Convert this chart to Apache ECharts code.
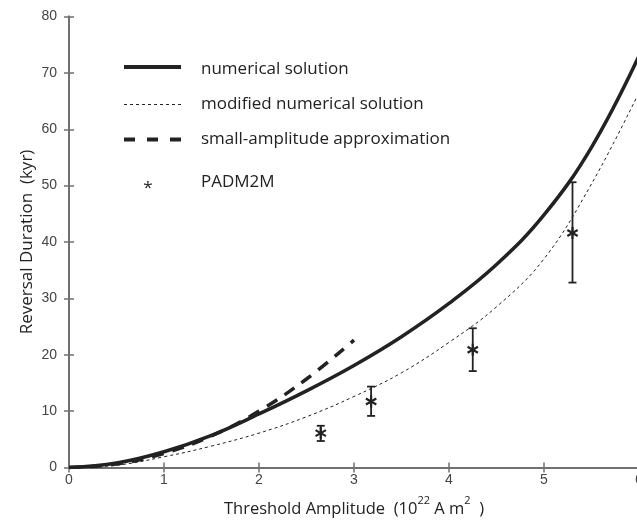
<!DOCTYPE html>
<html>
<head>
<meta charset="utf-8">
<script src="https://cdn.jsdelivr.net/npm/echarts@6/dist/echarts.min.js"></script>
<style>html,body{margin:0;padding:0;background:#fff}#c{width:637px;height:520px}</style>
</head>
<body>
<div id="c"></div>
<script>
// Data
const xGrid = [0, 0.5, 1, 1.5, 2, 2.5, 3, 3.5, 4, 4.5, 5, 5.5, 6];
const numericalSolution = [0, 0.8, 2.8, 5.7, 9.5, 13.6, 18.1, 23.2, 29.1, 36.0, 44.8, 56.8, 73];
const modifiedSolution = [0, 0.4, 1.9, 3.8, 6.1, 9.0, 12.6, 16.8, 22.2, 28.5, 37.0, 50.3, 66.5];
const xSmall = [0, 0.5, 1, 1.5, 2, 2.5, 3];
const smallAmplitude = [0, 0.6, 2.5, 5.6, 10.0, 15.7, 22.6];
const padmX = [2.65, 3.18, 4.25, 5.30];
const padmY = [6.1, 11.7, 20.9, 41.6];
const padmLow = [4.7, 9.15, 17.1, 32.8];
const padmHigh = [7.4, 14.35, 24.7, 50.6];
const xTicks = [0, 1, 2, 3, 4, 5, 6];
const yTicks = [0, 10, 20, 30, 40, 50, 60, 70, 80];
const legendNames = ['numerical solution', 'modified numerical solution', 'small-amplitude approximation', 'PADM2M'];

const pair = (xs, ys) => xs.map((x, i) => [x, ys[i]]);
const padmData = padmX.map((x, i) => [x, padmY[i], padmLow[i], padmHigh[i]]);

const ink = '#222';
const axisGray = '#707070';
const tickFont = 'Liberation Sans';
const textFont = 'Open Sans';

const chart = echarts.init(document.getElementById('c'), null, {renderer: 'canvas'});

const commonAxisLine = {show: true, lineStyle: {color: axisGray, width: 2}};
const commonTick = {show: true, inside: true, length: 5, lineStyle: {color: axisGray, width: 1.5}};

function errRender(params, api) {
  const x = api.value(0), y = api.value(1), lo = api.value(2), hi = api.value(3);
  const c = api.coord([x, y]);
  const l = api.coord([x, lo]);
  const h = api.coord([x, hi]);
  const st = {stroke: ink, lineWidth: 1.8};
  const cap = 4;
  const a = 6, dx = 5.2, dy = 3;
  const ss = {stroke: ink, lineWidth: 2.2};
  return {
    type: 'group',
    children: [
      {type: 'line', shape: {x1: l[0], y1: l[1], x2: h[0], y2: h[1]}, style: st},
      {type: 'line', shape: {x1: l[0] - cap, y1: l[1], x2: l[0] + cap, y2: l[1]}, style: st},
      {type: 'line', shape: {x1: h[0] - cap, y1: h[1], x2: h[0] + cap, y2: h[1]}, style: st},
      {type: 'line', shape: {x1: c[0], y1: c[1] - a, x2: c[0], y2: c[1] + a}, style: ss},
      {type: 'line', shape: {x1: c[0] - dx, y1: c[1] - dy, x2: c[0] + dx, y2: c[1] + dy}, style: ss},
      {type: 'line', shape: {x1: c[0] - dx, y1: c[1] + dy, x2: c[0] + dx, y2: c[1] - dy}, style: ss}
    ]
  };
}

const legendX0 = 124, legendX1 = 181, legendTextX = 201;
const legendLineYs = [67, 104.5, 139.5];
const legendTextYs = [69, 104, 139, 182];
const legendFont = '17px "Open Sans"';

function legendText(i) {
  return {type: 'text', x: legendTextX, y: legendTextYs[i],
    style: {text: legendNames[i], font: legendFont, fill: ink, verticalAlign: 'middle', align: 'left'}};
}

const option = {
  animation: false,
  backgroundColor: '#fff',
  grid: {left: 69, top: 16.5, width: 570, height: 451, containLabel: false, outerBoundsMode: 'none'},
  xAxis: [{
    type: 'value', min: xTicks[0], max: xTicks[xTicks.length - 1], interval: 1,
    position: 'bottom',
    axisLine: commonAxisLine, axisTick: commonTick, splitLine: {show: false},
    axisLabel: {color: '#444', fontFamily: tickFont, fontSize: 14, margin: 6, showMaxLabel: true, showMinLabel: true, hideOverlap: false},
    name: '{t|Threshold Amplitude  (10}{s|22}{t| A m}{s|2}{t|  )}',
    nameLocation: 'middle', nameGap: 28, nameMoveOverlap: false,
    nameTextStyle: {
      rich: {
        t: {fontFamily: textFont, fontSize: 16.5, color: ink, lineHeight: 22, verticalAlign: 'bottom'},
        s: {fontFamily: textFont, fontSize: 11, color: ink, lineHeight: 22, verticalAlign: 'top'}
      }
    }
  }, {
    type: 'value', min: xTicks[0], max: xTicks[xTicks.length - 1], interval: 1,
    position: 'top',
    axisLine: commonAxisLine, axisTick: commonTick, splitLine: {show: false},
    axisLabel: {show: false}
  }],
  yAxis: [{
    type: 'value', min: yTicks[0], max: yTicks[yTicks.length - 1], interval: 10,
    position: 'left',
    axisLine: commonAxisLine, axisTick: commonTick, splitLine: {show: false},
    axisLabel: {color: '#444', fontFamily: tickFont, fontSize: 14, margin: 12},
    name: 'Reversal Duration  (kyr)',
    nameLocation: 'middle', nameGap: 33, nameRotate: 90, nameMoveOverlap: false,
    nameTextStyle: {fontFamily: textFont, fontSize: 17, color: ink}
  }, {
    type: 'value', min: yTicks[0], max: yTicks[yTicks.length - 1], interval: 10,
    position: 'right',
    axisLine: commonAxisLine, axisTick: commonTick, splitLine: {show: false},
    axisLabel: {show: false}
  }],
  graphic: [
    {type: 'line', shape: {x1: legendX0, y1: legendLineYs[0], x2: legendX1, y2: legendLineYs[0]}, style: {stroke: ink, lineWidth: 4}},
    {type: 'line', shape: {x1: legendX0, y1: legendLineYs[1], x2: legendX1, y2: legendLineYs[1]}, style: {stroke: ink, lineWidth: 1, lineDash: [3, 3]}},
    {type: 'line', shape: {x1: legendX0, y1: legendLineYs[2], x2: legendX1, y2: legendLineYs[2]}, style: {stroke: ink, lineWidth: 4, lineDash: [11, 12]}},
    {type: 'text', x: 148, y: 188, style: {text: '*', font: legendFont, fill: ink, verticalAlign: 'middle', align: 'center'}},
    legendText(0), legendText(1), legendText(2), legendText(3)
  ],
  series: [
    {
      name: legendNames[0], type: 'line', smooth: 0.4, symbol: 'none',
      data: pair(xGrid, numericalSolution),
      lineStyle: {color: ink, width: 3.5}, z: 3
    },
    {
      name: legendNames[1], type: 'line', smooth: 0.4, symbol: 'none',
      data: pair(xGrid, modifiedSolution),
      lineStyle: {color: ink, width: 1, type: [3, 3]}, z: 3
    },
    {
      name: legendNames[2], type: 'line', smooth: 0.4, symbol: 'none',
      data: pair(xSmall, smallAmplitude),
      lineStyle: {color: ink, width: 3.5, type: [12, 9]}, z: 3
    },
    {
      name: legendNames[3], type: 'custom',
      renderItem: errRender,
      data: padmData,
      encode: {x: 0, y: 1},
      z: 4
    }
  ]
};
chart.setOption(option);
</script>
</body>
</html>
